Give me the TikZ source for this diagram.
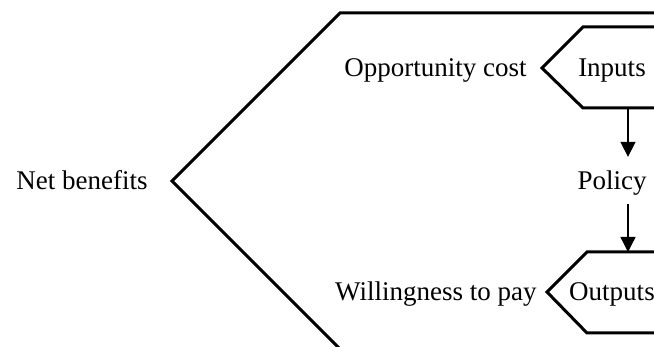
\documentclass[tikz,border=0pt]{standalone}
\usepackage{fontspec}
\setmainfont{Liberation Serif}
\usetikzlibrary{arrows.meta}

\begin{document}
\begin{tikzpicture}[x=0.5pt, y=-0.5pt,
    outline/.style={line width=1.5pt, line join=miter},
    label/.style={inner sep=0pt, font=\fontsize{13.5}{16}\selectfont},
    flow/.style={-{Triangle[length=7.5pt, width=7.5pt]}, line width=0.65pt}]
      \clip (0,0) rectangle (654,347);

      % Shapes
      \draw[outline] (660,13) -- (340,13) -- (172,181) -- (340,349) -- (660,349);
      \draw[outline] (660,27) -- (583,27) -- (542,68) -- (583,108) -- (660,108);
      \draw[outline] (660,252) -- (587,252) -- (547,292) -- (587,333) -- (660,333);

      % Nodes
      \node[label, anchor=base east] at (148,190) (net) {Net benefits};
      \node[label, anchor=base east] at (527,77) (cost) {Opportunity cost};
      \node[label, anchor=base east] at (537,301) (wtp) {Willingness to pay};
      \node[label, anchor=base] at (612,77) (inputs) {Inputs};
      \node[label, anchor=base, inner ysep=7pt, text depth=0pt] at (612,190) (policy) {Policy};
      \node[label, anchor=base] at (612,301) (outputs) {Outputs};

      \coordinate (inbot) at (628,108);
      \coordinate (outtop) at (628,252);

      \draw[flow] (inbot) -- (inbot |- policy.north);
      \draw[flow] (outtop |- policy.south) -- (outtop);
    \end{tikzpicture}
\end{document}
